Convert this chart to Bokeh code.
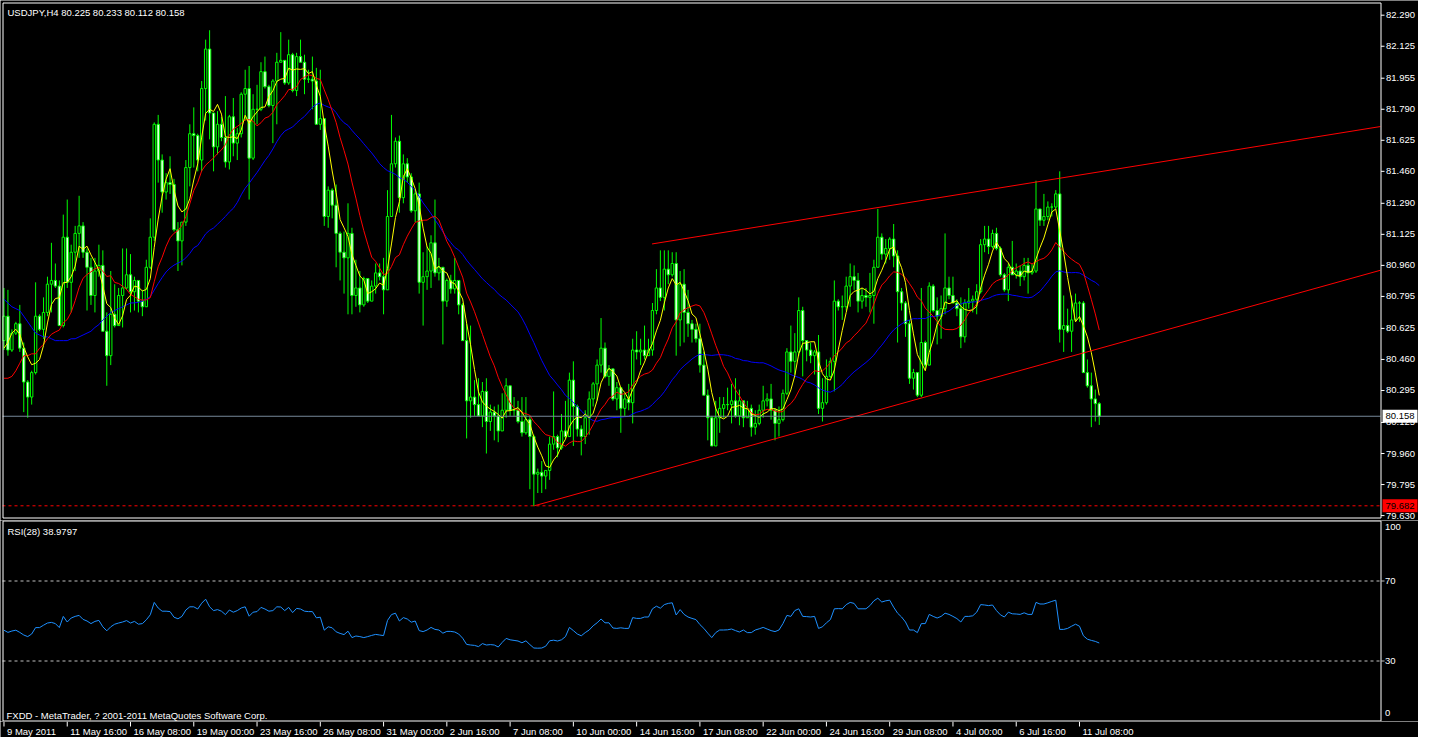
import numpy as np
import pandas as pd
from bokeh.plotting import figure
from bokeh.layouts import column
from bokeh.models import Range1d, ColumnDataSource
from bokeh.embed import file_html
from bokeh.resources import INLINE
from bokeh.core.properties import value

# ---------------- data ----------------
symbol = "USDJPY,H4"
last_ohlc = ["80.225", "80.233", "80.112", "80.158"]
first_open = 80.56

close = [
    80.69, 80.51, 80.60, 80.65, 80.52, 80.34, 80.26, 80.39, 80.69, 80.62,
    80.71, 80.86, 80.88, 80.85, 80.64, 81.11, 80.87, 81.03, 81.13, 81.17,
    81.03, 80.95, 80.80, 80.93, 80.96, 80.61, 80.48, 80.70, 80.64, 80.80,
    80.84, 80.91, 80.82, 80.88, 80.77, 80.74, 80.95, 81.11, 81.71, 81.52,
    81.35, 81.40, 81.39, 81.15, 81.09, 81.19, 81.48, 81.66, 81.65, 81.52,
    81.90, 82.11, 81.77, 81.59, 81.71, 81.64, 81.51, 81.75, 81.61, 81.66,
    81.87, 81.90, 81.53, 81.79, 81.79, 81.99, 81.91, 81.81, 81.94, 82.04,
    82.05, 81.93, 82.08, 81.89, 82.07, 82.04, 81.95, 81.95, 81.94, 81.71,
    81.74, 81.22, 81.36, 81.28, 81.13, 81.03, 81.00, 81.13, 80.80, 80.84,
    80.75, 80.89, 80.77, 80.85, 80.92, 80.90, 80.83, 81.22, 81.50, 81.62,
    81.32, 81.50, 81.43, 81.25, 81.34, 80.87, 80.90, 80.93, 81.08, 80.92,
    80.95, 80.77, 80.88, 80.835, 80.88, 80.75, 80.56, 80.24, 80.26, 80.22,
    80.16, 80.29, 80.13, 80.18, 80.16, 80.08, 80.19, 80.32, 80.19, 80.19,
    80.13, 80.07, 80.14, 80.05, 79.85, 79.86, 79.84, 79.87, 80.01, 80.05,
    79.99, 80.08, 80.05, 80.35, 80.21, 80.09, 80.05, 80.15, 80.25, 80.33,
    80.43, 80.52, 80.37, 80.41, 80.25, 80.31, 80.20, 80.25, 80.23, 80.51,
    80.50, 80.51, 80.48, 80.51, 80.72, 80.84, 80.79, 80.94, 80.91, 80.97,
    80.67, 80.86, 80.71, 80.65, 80.62, 80.57, 80.43, 80.27, 80.15, 80.00,
    80.15, 80.20, 80.22, 80.22, 80.24, 80.16, 80.24, 80.15, 80.20, 80.10,
    80.12, 80.19, 80.24, 80.25, 80.19, 80.12, 80.14, 80.28, 80.50, 80.45,
    80.50, 80.72, 80.56, 80.51, 80.48, 80.50, 80.20, 80.23, 80.37, 80.45,
    80.77, 80.74, 80.74, 80.85, 80.90, 80.88, 80.77, 80.80, 80.79, 80.80,
    80.95, 81.11, 81.02, 81.05, 81.10, 81.01, 80.82, 80.76, 80.65, 80.36,
    80.39, 80.27, 80.55, 80.43, 80.85, 80.72, 80.69, 80.73, 80.84, 80.80,
    80.76, 80.73, 80.58, 80.76, 80.77, 80.78, 80.82, 81.07, 81.10, 81.06,
    81.13, 81.05, 80.91, 80.83, 80.95, 80.91, 80.93, 80.90, 80.96, 80.92,
    80.93, 81.26, 81.20, 81.22, 81.27, 81.27, 81.34, 80.62, 80.64, 80.61,
    80.67, 80.76, 80.76, 80.39, 80.32, 80.25, 80.225, 80.158,
]

high = [
    80.84, 80.83, 80.62, 80.66, 80.75, 80.55, 80.35, 80.40, 80.87, 80.70,
    80.79, 80.90, 81.08, 80.97, 80.88, 81.23, 81.31, 81.07, 81.17, 81.33,
    81.19, 81.05, 81.00, 81.00, 81.07, 81.04, 80.71, 80.93, 80.86, 80.84,
    81.05, 81.05, 81.02, 80.90, 80.88, 80.83, 80.99, 81.21, 81.72, 81.76,
    81.55, 81.45, 81.54, 81.42, 81.19, 81.19, 81.52, 81.71, 81.80, 81.66,
    81.94, 82.16, 82.21, 81.76, 81.78, 81.75, 81.86, 81.76, 81.85, 81.69,
    81.88, 82.00, 82.02, 81.87, 81.92, 82.04, 82.07, 81.92, 81.95, 82.09,
    82.20, 82.05, 82.16, 82.09, 82.09, 82.16, 82.08, 82.00, 82.07, 82.01,
    82.00, 81.74, 81.38, 81.37, 81.39, 81.14, 81.14, 81.29, 81.16, 80.99,
    80.93, 80.90, 80.85, 80.88, 80.97, 80.97, 81.00, 81.36, 81.76, 81.64,
    81.65, 81.55, 81.53, 81.45, 81.36, 81.40, 81.03, 81.06, 81.12, 81.31,
    81.00, 80.95, 80.89, 80.91, 81.00, 80.84, 80.76, 80.65, 80.64, 80.35,
    80.36, 80.34, 80.36, 80.22, 80.21, 80.22, 80.28, 80.36, 80.32, 80.26,
    80.24, 80.26, 80.26, 80.16, 80.06, 79.88, 79.92, 79.87, 80.05, 80.29,
    80.06, 80.17, 80.24, 80.39, 80.45, 80.22, 80.11, 80.19, 80.29, 80.34,
    80.46, 80.68, 80.55, 80.43, 80.39, 80.34, 80.29, 80.28, 80.33, 80.57,
    80.61, 80.57, 80.64, 80.57, 80.76, 80.94, 81.04, 81.04, 81.04, 81.03,
    81.03, 80.93, 80.94, 80.83, 80.67, 80.65, 80.65, 80.50, 80.30, 80.16,
    80.24, 80.26, 80.26, 80.31, 80.33, 80.36, 80.30, 80.23, 80.24, 80.22,
    80.19, 80.22, 80.32, 80.28, 80.33, 80.20, 80.21, 80.30, 80.52, 80.64,
    80.60, 80.79, 80.74, 80.55, 80.55, 80.51, 80.59, 80.36, 80.46, 80.47,
    80.88, 80.78, 80.80, 80.90, 80.97, 80.96, 80.92, 80.84, 80.84, 80.92,
    80.99, 81.26, 81.13, 81.10, 81.11, 81.18, 81.04, 80.84, 80.77, 80.67,
    80.41, 80.39, 80.84, 80.56, 80.87, 80.86, 80.79, 80.80, 81.13, 80.90,
    80.90, 80.78, 80.79, 80.78, 80.84, 80.80, 80.86, 81.10, 81.17, 81.17,
    81.15, 81.16, 81.06, 80.92, 80.97, 81.09, 80.97, 80.96, 81.00, 81.00,
    80.97, 81.41, 81.26, 81.34, 81.30, 81.29, 81.36, 81.46, 80.80, 80.73,
    80.80, 80.81, 80.77, 80.77, 80.46, 80.39, 80.30, 80.233,
]

low = [
    80.51, 80.48, 80.50, 80.59, 80.50, 80.18, 80.15, 80.22, 80.38, 80.61,
    80.57, 80.69, 80.71, 80.84, 80.64, 80.63, 80.84, 80.71, 80.93, 81.00,
    81.00, 80.72, 80.75, 80.71, 80.90, 80.61, 80.32, 80.43, 80.63, 80.65,
    80.63, 80.83, 80.71, 80.72, 80.71, 80.69, 80.77, 80.94, 81.09, 81.40,
    81.24, 81.31, 81.34, 81.14, 80.93, 80.96, 81.17, 81.38, 81.48, 81.46,
    81.46, 81.73, 81.63, 81.46, 81.55, 81.62, 81.48, 81.47, 81.54, 81.52,
    81.64, 81.73, 81.31, 81.52, 81.71, 81.78, 81.90, 81.80, 81.61, 81.71,
    82.04, 81.92, 81.92, 81.88, 81.86, 82.04, 81.87, 81.93, 81.79, 81.71,
    81.68, 81.17, 81.16, 81.21, 80.95, 80.88, 80.81, 80.70, 80.70, 80.74,
    80.71, 80.74, 80.76, 80.77, 80.81, 80.88, 80.70, 80.83, 81.26, 81.48,
    81.24, 81.29, 81.40, 81.24, 81.19, 80.81, 80.64, 80.83, 80.84, 80.90,
    80.88, 80.54, 80.74, 80.81, 80.81, 80.70, 80.56, 80.04, 80.15, 80.16,
    80.16, 80.10, 79.96, 80.08, 80.03, 80.02, 80.11, 80.15, 80.16, 80.16,
    80.12, 80.05, 80.06, 79.77, 79.68, 79.75, 79.75, 79.77, 79.82, 79.98,
    79.94, 79.98, 80.04, 80.06, 80.00, 80.05, 79.95, 80.01, 80.06, 80.21,
    80.24, 80.39, 80.36, 80.32, 80.24, 80.19, 80.07, 80.16, 80.19, 80.12,
    80.46, 80.43, 80.46, 80.48, 80.48, 80.70, 80.77, 80.72, 80.86, 80.90,
    80.48, 80.53, 80.55, 80.58, 80.55, 80.55, 80.39, 80.27, 80.03, 80.00,
    80.01, 80.07, 80.15, 80.19, 80.12, 80.15, 80.11, 80.10, 80.15, 80.05,
    80.06, 80.11, 80.15, 80.21, 80.14, 80.03, 80.05, 80.13, 80.27, 80.39,
    80.38, 80.48, 80.37, 80.45, 80.44, 80.38, 80.17, 80.13, 80.22, 80.36,
    80.29, 80.72, 80.67, 80.72, 80.74, 80.83, 80.71, 80.73, 80.74, 80.71,
    80.65, 80.95, 80.99, 80.97, 80.99, 80.95, 80.55, 80.72, 80.58, 80.33,
    80.30, 80.26, 80.26, 80.41, 80.54, 80.71, 80.54, 80.57, 80.70, 80.78,
    80.76, 80.69, 80.52, 80.55, 80.73, 80.71, 80.70, 80.81, 81.03, 81.02,
    81.05, 81.04, 80.90, 80.82, 80.77, 80.91, 80.89, 80.85, 80.88, 80.81,
    80.91, 80.92, 81.17, 81.17, 81.20, 81.22, 81.26, 80.55, 80.50, 80.60,
    80.50, 80.67, 80.66, 80.39, 80.31, 80.10, 80.13, 80.112,
]

# moving-average values visible before enough bars exist
yellow_head = [80.52, 80.55, 80.60, 80.62]
red_head = [80.36, 80.36, 80.37, 80.40, 80.44, 80.48, 80.48, 80.49, 80.49,
            80.52, 80.54, 80.57]
blue_head = [80.78, 80.76, 80.74, 80.73, 80.72, 80.69, 80.66, 80.63, 80.60,
             80.59, 80.58, 80.58, 80.57, 80.56, 80.56, 80.56, 80.56, 80.57,
             80.57, 80.58, 80.59, 80.60, 80.61, 80.63, 80.645, 80.67, 80.69,
             80.71, 80.72, 80.73, 80.74, 80.75, 80.76]
ma_periods = [5, 13, 34]

rsi = [
    45.4, 44.3, 45.0, 45.4, 44.3, 43.0, 42.2, 43.5, 46.7, 46.7,
    47.9, 49.0, 49.3, 48.7, 46.7, 52.3, 49.5, 51.5, 52.3, 52.8,
    50.8, 50.0, 48.7, 49.8, 50.3, 47.1, 45.1, 47.1, 48.4, 49.0,
    49.5, 50.2, 49.0, 49.8, 48.4, 48.7, 50.6, 53.1, 59.3, 56.5,
    54.9, 54.9, 54.7, 51.9, 51.1, 52.3, 55.5, 57.1, 57.1, 56.0,
    58.9, 60.9, 57.1, 55.2, 55.7, 54.9, 53.2, 55.5, 54.4, 55.2,
    56.5, 57.1, 52.4, 54.4, 54.7, 56.8, 56.0, 54.9, 55.2, 57.1,
    57.0, 55.2, 56.8, 54.2, 56.3, 56.0, 54.9, 54.7, 54.7, 51.6,
    51.9, 45.4, 47.1, 46.6, 44.6, 43.8, 43.2, 44.9, 41.7, 42.5,
    42.2, 41.7, 42.2, 42.8, 43.3, 43.0, 42.7, 50.3, 53.2, 53.9,
    50.0, 51.7, 51.0, 49.4, 50.0, 45.2, 44.7, 45.5, 46.8, 45.8,
    45.5, 43.9, 44.8, 44.8, 44.5, 43.5, 41.4, 38.3, 38.0, 37.8,
    37.2, 38.7, 38.0, 38.2, 38.0, 37.0, 39.3, 41.3, 40.6, 40.3,
    40.0, 39.1, 40.1, 38.2, 36.5, 36.4, 36.5, 37.4, 40.1, 40.4,
    40.0, 40.6, 42.2, 46.8, 45.2, 43.5, 42.6, 44.2, 45.5, 47.6,
    49.1, 51.0, 49.1, 49.1, 46.5, 46.3, 46.6, 46.3, 46.3, 51.7,
    51.3, 51.3, 52.0, 52.0, 56.1, 57.4, 56.4, 58.2, 58.8, 59.1,
    53.0, 55.7, 53.3, 52.0, 51.3, 50.7, 48.2, 46.3, 43.9, 41.7,
    44.2, 45.5, 45.5, 45.6, 46.0, 45.2, 44.5, 45.5, 44.2, 44.2,
    45.5, 46.1, 46.8, 46.0, 45.2, 44.7, 45.5, 48.7, 52.8, 52.3,
    55.2, 56.1, 52.3, 52.2, 52.0, 52.3, 46.3, 47.1, 49.1, 50.7,
    56.1, 56.2, 56.1, 58.2, 59.3, 58.8, 56.1, 56.1, 56.1, 57.7,
    60.1, 61.4, 59.5, 60.1, 60.4, 56.9, 53.9, 52.0, 49.5, 45.5,
    45.5, 44.2, 48.7, 48.7, 53.3, 52.3, 51.5, 52.3, 53.9, 53.3,
    52.3, 51.2, 49.5, 52.3, 52.3, 52.6, 54.4, 58.2, 58.0, 57.7,
    58.0, 55.2, 53.1, 52.0, 54.4, 53.6, 53.5, 53.3, 54.1, 53.3,
    53.3, 59.3, 58.5, 58.5, 59.1, 59.8, 60.4, 45.8, 45.8, 46.3,
    47.4, 48.4, 47.4, 42.6, 40.9, 40.3, 39.8, 39.0,
]
rsi_title = "RSI(28) 38.9797"
rsi_levels = [30, 70]
rsi_tick_values = [97, 70, 30, 4]
rsi_tick_labels = ["100", "70", "30", "0"]

price_ticks = [82.290, 82.125, 81.955, 81.790, 81.625, 81.460, 81.290, 81.125,
               80.960, 80.795, 80.625, 80.460, 80.295, 80.125, 79.960, 79.795,
               79.630]
bid_price = 80.158
low_mark = 79.682

time_labels = ["9 May 2011", "11 May 16:00", "16 May 08:00", "19 May 00:00",
               "23 May 16:00", "26 May 08:00", "31 May 00:00", "2 Jun 16:00",
               "7 Jun 08:00", "10 Jun 00:00", "14 Jun 16:00", "17 Jun 08:00",
               "22 Jun 00:00", "24 Jun 16:00", "29 Jun 08:00", "4 Jul 00:00",
               "6 Jul 16:00", "11 Jul 08:00"]
time_label_bars = [16 * i for i in range(len(time_labels))]

# channel trend lines: (bar, price) end points
upper_line_bars = [163.9, 348.1]
upper_line_prices = [81.074, 81.698]
lower_line_bars = [134.1, 348.1]
lower_line_prices = [79.682, 80.934]

footer = "FXDD - MetaTrader, ? 2001-2011 MetaQuotes Software Corp."

# ---------------- layout constants (pixels) ----------------
W = 1418
CHART_L, CHART_W = 2, 1378          # chart area: px 2 .. 1380
X0, X1 = -0.375, 348.125            # bars shown in the chart area
PPB = CHART_W / (X1 - X0)           # px per bar
XA = X0 - CHART_L / PPB
XB = XA + W / PPB
CR = CHART_L + CHART_W              # right edge px of chart area


def mx(px):
    return XA + px / PPB


Y0, Y1 = 79.6198, 82.3575           # price range of chart area
H_MAIN = 520
MAIN_TOP, MAIN_H = 2, 515
PPY = MAIN_H / (Y1 - Y0)
YA = Y1 + MAIN_TOP / PPY
YB = YA - H_MAIN / PPY


def my(py):
    return YA - py / PPY


H_RSI = 201
PPR = 2.0
RA = 100 + 0.5 / PPR
RB = RA - H_RSI / PPR


def ry(py):
    return RA - py / PPR


H_TIME = 16
FONT = value("Liberation Sans")
FS = value("9.5px")
LIME = "#00ff00"
WHITE = "#ffffff"

xr = Range1d(XA, XB)


def base_fig(height, yr):
    f = figure(width=W, height=height, x_range=xr, y_range=yr, title=None,
               output_backend="svg", toolbar_location=None,
               x_axis_location=None, y_axis_location=None,
               min_border=0, min_border_left=0, min_border_right=0,
               min_border_top=0, min_border_bottom=0,
               background_fill_color="black", border_fill_color="black",
               outline_line_color=None)
    for g in f.grid:
        g.visible = False
    return f


def frame_box(f, top_y, bottom_y):
    xl, xr_ = mx(CHART_L + 0.5), mx(CR + 0.5)
    f.multi_line(xs=[[xl, xr_], [xl, xr_], [xl, xl], [xr_, xr_]],
                 ys=[[top_y, top_y], [bottom_y, bottom_y],
                     [top_y, bottom_y], [top_y, bottom_y]],
                 line_color=WHITE, line_width=1)


def texts(f, xs, ys, labels, color=WHITE, align="left", baseline="middle"):
    f.text(x=xs, y=ys, text=labels, text_color=color, text_font=FONT,
           text_font_size=FS, text_align=align, text_baseline=baseline)


n = len(close)
idx = np.arange(n)
opens = [first_open] + close[:-1]
hi = [max(h, o, c) for h, o, c in zip(high, opens, close)]
lo = [min(l, o, c) for l, o, c in zip(low, opens, close)]

s = pd.Series(close)
ma_fast = s.rolling(ma_periods[0]).mean().to_numpy()
ma_fast[:len(yellow_head)] = yellow_head
ma_mid = s.rolling(ma_periods[1]).mean().to_numpy()
ma_mid[:len(red_head)] = red_head
ma_slow = s.rolling(ma_periods[2]).mean().to_numpy()
ma_slow[:len(blue_head)] = blue_head

# ---------------- main price panel ----------------
pa = base_fig(H_MAIN, Range1d(YB, YA))

pa.line([X0, X1], [low_mark, low_mark], line_color="#ff0000",
        line_dash="3 3", line_width=1)

src = ColumnDataSource(dict(
    x=idx, h=hi, l=lo,
    top=[max(o, c) for o, c in zip(opens, close)],
    bottom=[min(o, c) for o, c in zip(opens, close)],
    fill=["black" if c >= o else "white" for o, c in zip(opens, close)],
))
pa.segment(x0="x", y0="l", x1="x", y1="h", source=src, line_color=LIME,
           line_width=1)
pa.vbar(x="x", top="top", bottom="bottom", width=0.6, source=src,
        fill_color="fill", line_color=LIME, line_width=1)

pa.line(idx, ma_slow, line_color="#0000ff", line_width=1)
pa.line(idx, ma_mid, line_color="#ff0000", line_width=1)
pa.line(idx, ma_fast, line_color="#ffff00", line_width=1)

pa.line(upper_line_bars, upper_line_prices, line_color="#ff0000", line_width=1)
pa.line(lower_line_bars, lower_line_prices, line_color="#ff0000", line_width=1)

pa.line([X0, X1], [bid_price, bid_price], line_color="#778899", line_width=1)

frame_box(pa, my(MAIN_TOP + 0.5), my(MAIN_TOP + MAIN_H + 0.5))

# right price scale
pa.segment(x0=[mx(CR + 0.5)] * len(price_ticks), y0=price_ticks,
           x1=[mx(CR + 4)] * len(price_ticks), y1=price_ticks,
           line_color=WHITE, line_width=1)
texts(pa, [mx(CR + 5.5)] * len(price_ticks), price_ticks,
      ["%.3f" % t for t in price_ticks])

# price boxes
box_l, box_r = mx(CR + 2), mx(CR + 37)
half = 6.5 / PPY
pa.quad(left=[box_l, box_l], right=[box_r, box_r],
        top=[bid_price + half, low_mark + half],
        bottom=[bid_price - half, low_mark - half],
        fill_color=[WHITE, "#ff0000"], line_color=None)
texts(pa, [mx(CR + 5), mx(CR + 5)], [bid_price, low_mark],
      ["%.3f" % bid_price, "%.3f" % low_mark], color="#000000")

texts(pa, [mx(7)], [my(6)], [symbol + "  " + " ".join(last_ohlc)],
      baseline="top")

# ---------------- RSI panel ----------------
pb = base_fig(H_RSI, Range1d(RB, RA))
for lv in rsi_levels:
    pb.line([X0, X1], [lv, lv], line_color="#c0c0c0", line_dash="3 3",
            line_width=1)
pb.line(idx, rsi, line_color="#1e90ff", line_width=1)
frame_box(pb, ry(0.5), ry(200.5))
pb.segment(x0=[mx(CR + 0.5)] * 2, y0=rsi_levels, x1=[mx(CR + 4)] * 2,
           y1=rsi_levels, line_color="#c0c0c0", line_width=1)
texts(pb, [mx(CR + 4.5)] * len(rsi_tick_values), rsi_tick_values,
      rsi_tick_labels)
texts(pb, [mx(7)], [ry(5.5)], [rsi_title], baseline="top")
texts(pb, [mx(6)], [ry(195)], [footer], baseline="alphabetic")

# ---------------- time axis strip ----------------
pc = base_fig(H_TIME, Range1d(0, H_TIME))
tb = np.array(time_label_bars, dtype=float)
pc.segment(x0=tb, y0=[H_TIME] * len(tb), x1=tb, y1=[H_TIME - 5] * len(tb),
           line_color=WHITE, line_width=1)
texts(pc, tb + 3 / PPB, [H_TIME - 9.5] * len(tb), time_labels)

layout = column(pa, pb, pc, spacing=0)
open("out.html", "w").write(file_html(layout, INLINE))
